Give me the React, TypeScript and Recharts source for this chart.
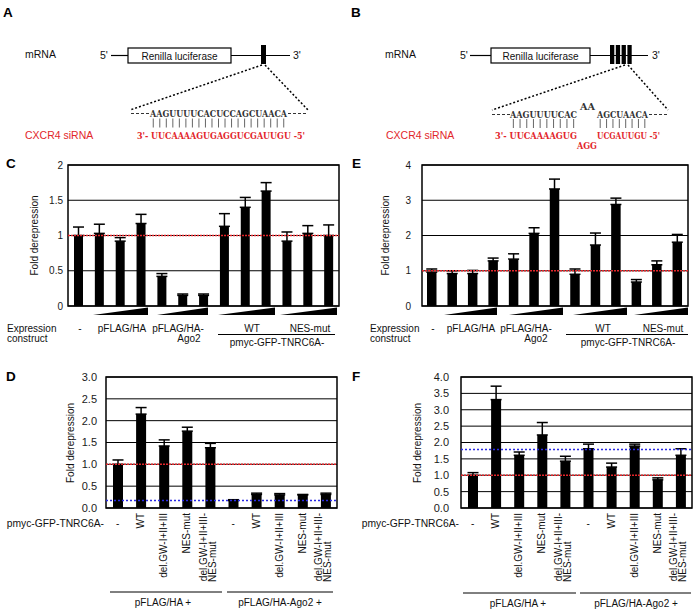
import React from 'react';
import {
  BarChart,
  Bar,
  XAxis,
  YAxis,
  CartesianGrid,
  ReferenceLine,
  ReferenceArea,
  ErrorBar,
} from 'recharts';

const FONT = '"Liberation Sans", Arial, Helvetica, sans-serif';
const SEQ_FONT = '"DejaVu Serif", "Liberation Serif", serif';
const RED = '#e2262b';
const BLUE = '#2a2ae6';

// ---------- Panel C (one site) ----------
const categoriesC = [
  '-', 'HA-1', 'HA-2', 'HA-3', 'Ago2-1', 'Ago2-2', 'Ago2-3',
  'WT-1', 'WT-2', 'WT-3', 'NES-1', 'NES-2', 'NES-3',
];
const valuesC = [1.0, 1.03, 0.92, 1.17, 0.42, 0.15, 0.15, 1.13, 1.4, 1.63, 0.92, 1.03, 1.0];
const errorsC = [0.12, 0.13, 0.05, 0.13, 0.04, 0.02, 0.02, 0.18, 0.14, 0.12, 0.13, 0.11, 0.15];
const ticksC = [0, 0.5, 1, 1.5, 2];

// ---------- Panel E (four bulged sites) ----------
const categoriesE = [
  '-', 'HA-1', 'HA-2', 'HA-3', 'Ago2-1', 'Ago2-2', 'Ago2-3',
  'WT-1', 'WT-2', 'WT-3', 'NES-1', 'NES-2', 'NES-3',
];
const valuesE = [0.96, 0.92, 0.92, 1.28, 1.33, 2.06, 3.32, 0.9, 1.73, 2.88, 0.68, 1.17, 1.81];
const errorsE = [0.09, 0.08, 0.09, 0.08, 0.15, 0.16, 0.28, 0.15, 0.34, 0.18, 0.07, 0.11, 0.22];
const ticksE = [0, 1, 2, 3, 4];

// ---------- Panel D ----------
const categoriesD = [
  'HA:-', 'HA:WT', 'HA:delGW', 'HA:NES', 'HA:delGW-NES',
  'Ago2:-', 'Ago2:WT', 'Ago2:delGW', 'Ago2:NES', 'Ago2:delGW-NES',
];
const tickLabelsD = [
  '-', 'WT', 'del.GW-I+II+III', 'NES-mut', 'del.GW-I+II+III-\nNES-mut',
  '-', 'WT', 'del.GW-I+II+III', 'NES-mut', 'del.GW-I+II+III-\nNES-mut',
];
const valuesD = [1.0, 2.15, 1.42, 1.76, 1.38, 0.17, 0.31, 0.3, 0.3, 0.31];
const errorsD = [0.1, 0.15, 0.14, 0.09, 0.1, 0.02, 0.03, 0.03, 0.01, 0.03];
const ticksD = [0, 0.5, 1, 1.5, 2, 2.5, 3];
const baselineD = 0.17;

// ---------- Panel F ----------
const categoriesF = [
  'HA:-', 'HA:WT', 'HA:delGW', 'HA:NES', 'HA:delGW-NES',
  'Ago2:-', 'Ago2:WT', 'Ago2:delGW', 'Ago2:NES', 'Ago2:delGW-NES',
];
const tickLabelsF = [
  '-', 'WT', 'del.GW-I+II+III', 'NES-mut', 'del.GW-I+II+III-\nNES-mut',
  '-', 'WT', 'del.GW-I+II+III', 'NES-mut', 'del.GW-I+II+III-\nNES-mut',
];
const valuesF = [1.0, 3.31, 1.61, 2.23, 1.43, 1.81, 1.25, 1.89, 0.86, 1.61];
const errorsF = [0.08, 0.41, 0.1, 0.38, 0.15, 0.14, 0.12, 0.06, 0.06, 0.2];
const ticksF = [0, 0.5, 1, 1.5, 2, 2.5, 3, 3.5, 4];
const baselineF = 1.79;

const buildRows = (cats: string[], vals: number[], errs: number[]) =>
  cats.map((name, i) => ({ name, idx: i + 0.5, v: vals[i], e: [0, errs[i]] }));

const fmt1 = (v: number) => v.toFixed(1);

function CatTick(props: any) {
  const { x, y, index, labels } = props;
  const label: string = labels[index] ?? '';
  const common = { fontSize: 10, fontFamily: FONT, fill: '#111' };
  if (label === '-') {
    return (
      <text x={x} y={y + 19} textAnchor="middle" {...common}>
        -
      </text>
    );
  }
  const lines = label.split('\n');
  if (lines.length === 1) {
    return (
      <text transform={`translate(${x},${y + 5}) rotate(-90)`} x={0} y={3.5} textAnchor="end" {...common}>
        {label}
      </text>
    );
  }
  return (
    <g transform={`translate(${x},${y + 5}) rotate(-90)`}>
      <text x={0} y={-3} textAnchor="end" {...common}>
        {lines[0]}
      </text>
      <text x={-69} y={6} textAnchor="start" {...common}>
        {lines[1]}
      </text>
    </g>
  );
}

type PanelProps = {
  left: number;
  top: number;
  width: number;
  height: number;
  rows: any[];
  ticks: number[];
  yWidth: number;
  tickMargin: number;
  tickFont: number;
  barSize: number;
  marginRight: number;
  fmt?: (v: number) => string;
  blue?: number;
  labels?: string[];
  xAxisHeight?: number;
};

function Panel(p: PanelProps) {
  const max = p.ticks[p.ticks.length - 1];
  const n = p.rows.length;
  const boundaries = p.rows.slice(1).map((_, i) => i + 1);
  return (
    <div style={{ position: 'absolute', left: p.left, top: p.top, width: p.width, height: p.height }}>
      <BarChart
        width={p.width}
        height={p.height}
        data={p.rows}
        margin={{ top: 10, right: p.marginRight, bottom: p.labels ? 0 : 9, left: 0 }}
        barCategoryGap={0}
      >
        <CartesianGrid vertical={false} stroke="#000" strokeWidth={1} />
        <XAxis
          xAxisId="sep"
          type="number"
          dataKey="idx"
          domain={[0, n]}
          ticks={boundaries}
          allowDataOverflow
          height={0}
          mirror
          tickSize={4}
          tick={false}
          axisLine={false}
          tickLine={{ stroke: '#000', strokeWidth: 1 }}
        />
        {p.labels ? (
          <XAxis
            dataKey="name"
            height={p.xAxisHeight}
            interval={0}
            axisLine={false}
            tickLine={false}
            tickSize={0}
            tickMargin={0}
            tick={<CatTick labels={p.labels} />}
          />
        ) : (
          <XAxis dataKey="name" hide />
        )}
        <YAxis
          type="number"
          domain={[0, max]}
          ticks={p.ticks}
          interval={0}
          width={p.yWidth}
          axisLine={false}
          tickLine={false}
          tickSize={0}
          tickMargin={p.tickMargin}
          tickFormatter={p.fmt}
          tick={{ fontSize: p.tickFont, fill: '#1a1a1a', fontFamily: FONT }}
        />
        <Bar dataKey="v" fill="#000" barSize={p.barSize} isAnimationActive={false}>
          <ErrorBar dataKey="e" width={5.5} stroke="#000" strokeWidth={1.5} direction="y" isAnimationActive={false} />
        </Bar>
        <ReferenceLine y={1} stroke={RED} strokeWidth={1.5} strokeDasharray="2 1" />
        {p.blue != null && <ReferenceLine y={p.blue} stroke={BLUE} strokeWidth={1.5} strokeDasharray="2 2" />}
        <ReferenceArea y1={0} y2={max} fill="none" fillOpacity={0} stroke="#000" strokeWidth={1.5} />
      </BarChart>
    </div>
  );
}

const T = (props: any) => <text fontFamily={FONT} fontSize={10} fill="#111" {...props} />;
const Seq = (props: any) => (
  <text fontFamily={SEQ_FONT} fontSize={9} fontWeight="bold" lengthAdjust="spacingAndGlyphs" {...props} />
);

function pairLines(x0: number, len: number, n: number, y1: number, y2: number, key: string) {
  const step = len / n;
  return Array.from({ length: n }, (_, i) => (
    <line key={key + i} x1={x0 + step * (i + 0.5)} x2={x0 + step * (i + 0.5)} y1={y1} y2={y2} stroke="#555" strokeWidth={0.9} />
  ));
}

function Wedge({ x1, x2 }: { x1: number; x2: number }) {
  return <polygon points={`${x1},315 ${x2},315 ${x2},307.5`} fill="#000" />;
}

function Overlay() {
  return (
    <svg width={696} height={609} style={{ position: 'absolute', left: 0, top: 0 }}>
      {/* Panel letters */}
      <T x={3} y={17} fontSize={13.5} fontWeight="bold" fill="#000">A</T>
      <T x={351} y={17} fontSize={13.5} fontWeight="bold" fill="#000">B</T>
      <T x={6} y={168} fontSize={13.5} fontWeight="bold" fill="#000">C</T>
      <T x={352} y={168} fontSize={13.5} fontWeight="bold" fill="#000">E</T>
      <T x={6} y={381} fontSize={13.5} fontWeight="bold" fill="#000">D</T>
      <T x={352} y={381} fontSize={13.5} fontWeight="bold" fill="#000">F</T>

      {/* ---- A schematic ---- */}
      <T x={25} y={58} fontSize={10.5}>mRNA</T>
      <T x={100} y={59} fontSize={10.5}>5'</T>
      <line x1={111} x2={128} y1={55.5} y2={55.5} stroke="#000" strokeWidth={1.2} />
      <rect x={128} y={48} width={103} height={15} fill="#fff" stroke="#000" strokeWidth={1.2} />
      <T x={179.5} y={59.5} textAnchor="middle">Renilla luciferase</T>
      <line x1={231} x2={290} y1={55.5} y2={55.5} stroke="#000" strokeWidth={1.2} />
      <rect x={261} y={45} width={5} height={19} fill="#000" />
      <T x={293} y={59} fontSize={10.5}>3'</T>
      <line x1={262} y1={65} x2={130} y2={110} stroke="#000" strokeWidth={1.5} strokeDasharray="2 2" />
      <line x1={265} y1={65} x2={308} y2={110} stroke="#000" strokeWidth={1.5} strokeDasharray="2 2" />
      <line x1={131} x2={150} y1={113.5} y2={113.5} stroke="#333" strokeWidth={1} strokeDasharray="3 2" />
      <line x1={288} x2={307} y1={113.5} y2={113.5} stroke="#333" strokeWidth={1} strokeDasharray="3 2" />
      <Seq x={150} y={117} textLength={137} fill="#333">AAGUUUUCACUCCAGCUAACA</Seq>
      {pairLines(150, 137, 21, 118.5, 127.5, 'pa')}
      <T x={25} y={139} fontSize={10.5} fill={RED}>CXCR4 siRNA</T>
      <Seq x={137} y={139} textLength={168} fill={RED}>3'- UUCAAAAGUGAGGUCGAUUGU -5'</Seq>

      {/* ---- B schematic ---- */}
      <T x={385} y={58} fontSize={10.5}>mRNA</T>
      <T x={460} y={59} fontSize={10.5}>5'</T>
      <line x1={470} x2={491} y1={55.5} y2={55.5} stroke="#000" strokeWidth={1.2} />
      <rect x={491} y={48} width={99} height={15} fill="#fff" stroke="#000" strokeWidth={1.2} />
      <T x={540.5} y={59.5} textAnchor="middle">Renilla luciferase</T>
      <line x1={590} x2={648} y1={55.5} y2={55.5} stroke="#000" strokeWidth={1.2} />
      <rect x={610} y={45} width={4.3} height={19} fill="#000" />
      <rect x={615.8} y={45} width={4.3} height={19} fill="#000" />
      <rect x={621.6} y={45} width={4.3} height={19} fill="#000" />
      <rect x={627.4} y={45} width={4.3} height={19} fill="#000" />
      <T x={652} y={59} fontSize={10.5}>3'</T>
      <line x1={625} y1={65} x2={492} y2={110} stroke="#000" strokeWidth={1.5} strokeDasharray="2 2" />
      <line x1={628} y1={65} x2={668} y2={110} stroke="#000" strokeWidth={1.5} strokeDasharray="2 2" />
      <line x1={492} x2={510} y1={114.5} y2={114.5} stroke="#333" strokeWidth={1} strokeDasharray="3 2" />
      <line x1={649} x2={668} y1={114.5} y2={114.5} stroke="#333" strokeWidth={1} strokeDasharray="3 2" />
      <Seq x={510} y={118} textLength={67} fill="#333">AAGUUUUCAC</Seq>
      <Seq x={580} y={110} textLength={15} fill="#333">AA</Seq>
      <Seq x={597} y={118} textLength={51} fill="#333">AGCUAACA</Seq>
      {pairLines(510, 67, 10, 119, 128, 'pb1')}
      {pairLines(597, 51, 8, 119, 128, 'pb2')}
      <T x={386} y={139} fontSize={10.5} fill={RED}>CXCR4 siRNA</T>
      <Seq x={495} y={139} textLength={82} fill={RED}>3'- UUCAAAAGUG</Seq>
      <Seq x={597} y={139} textLength={63} fill={RED}>UCGAUUGU -5'</Seq>
      <Seq x={577} y={149} textLength={20} fill={RED}>AGG</Seq>

      {/* ---- axis titles ---- */}
      <T transform="translate(34,235.5) rotate(-90)" y={3.5} textAnchor="middle">Fold derepression</T>
      <T transform="translate(385,235.5) rotate(-90)" y={3.5} textAnchor="middle">Fold derepression</T>
      <T transform="translate(70.5,443) rotate(-90)" y={3.5} textAnchor="middle">Fold derepression</T>
      <T transform="translate(417,443) rotate(-90)" y={3.5} textAnchor="middle">Fold derepression</T>

      {/* ---- C construct labels ---- */}
      <Wedge x1={93} x2={148} />
      <Wedge x1={157} x2={208} />
      <Wedge x1={218} x2={275} />
      <Wedge x1={280} x2={337} />
      <T x={7} y={331.5}>Expression</T>
      <T x={7} y={342}>construct</T>
      <T x={80} y={331.5} textAnchor="middle">-</T>
      <T x={122} y={331.5} textAnchor="middle">pFLAG/HA</T>
      <T x={178} y={331.5} textAnchor="middle">pFLAG/HA-</T>
      <T x={189} y={342} textAnchor="middle">Ago2</T>
      <T x={252} y={331.5} textAnchor="middle">WT</T>
      <T x={310} y={331.5} textAnchor="middle">NES-mut</T>
      <line x1={218} x2={335} y1={334.5} y2={334.5} stroke="#000" strokeWidth={1} />
      <T x={277} y={346} textAnchor="middle">pmyc-GFP-TNRC6A-</T>

      {/* ---- E construct labels ---- */}
      <Wedge x1={444} x2={497} />
      <Wedge x1={509} x2={563} />
      <Wedge x1={573} x2={627} />
      <Wedge x1={634} x2={688} />
      <T x={370} y={331.5}>Expression</T>
      <T x={370} y={342}>construct</T>
      <T x={433} y={331.5} textAnchor="middle">-</T>
      <T x={471} y={331.5} textAnchor="middle">pFLAG/HA</T>
      <T x={526} y={331.5} textAnchor="middle">pFLAG/HA-</T>
      <T x={536} y={342} textAnchor="middle">Ago2</T>
      <T x={603} y={331.5} textAnchor="middle">WT</T>
      <T x={663} y={331.5} textAnchor="middle">NES-mut</T>
      <line x1={566} x2={688} y1={334.5} y2={334.5} stroke="#000" strokeWidth={1} />
      <T x={628} y={346} textAnchor="middle">pmyc-GFP-TNRC6A-</T>

      {/* ---- D labels ---- */}
      <T x={104} y={527} textAnchor="end" fontSize={10.3}>pmyc-GFP-TNRC6A-</T>
      <line x1={110} x2={222} y1={592} y2={592} stroke="#000" strokeWidth={1} />
      <line x1={227} x2={333} y1={592} y2={592} stroke="#000" strokeWidth={1} />
      <T x={163} y={606} textAnchor="middle">pFLAG/HA +</T>
      <T x={280} y={606} textAnchor="middle">pFLAG/HA-Ago2 +</T>

      {/* ---- F labels ---- */}
      <T x={459} y={527} textAnchor="end" fontSize={10.3}>pmyc-GFP-TNRC6A-</T>
      <line x1={463} x2={576} y1={593} y2={593} stroke="#000" strokeWidth={1} />
      <line x1={580} x2={691} y1={593} y2={593} stroke="#000" strokeWidth={1} />
      <T x={518} y={607} textAnchor="middle">pFLAG/HA +</T>
      <T x={636} y={607} textAnchor="middle">pFLAG/HA-Ago2 +</T>
    </svg>
  );
}

export default function App() {
  const rowsC = buildRows(categoriesC, valuesC, errorsC);
  const rowsE = buildRows(categoriesE, valuesE, errorsE);
  const rowsD = buildRows(categoriesD, valuesD, errorsD);
  const rowsF = buildRows(categoriesF, valuesF, errorsF);
  return (
    <div style={{ position: 'absolute', left: 0, top: 0, width: 696, height: 609, background: '#fff', fontFamily: FONT }}>
      <Overlay />
      <Panel left={0} top={155} width={345} height={160} rows={rowsC} ticks={ticksC} yWidth={68}
        tickMargin={5} tickFont={10} barSize={9} marginRight={6} />
      <Panel left={348} top={155} width={345} height={160} rows={rowsE} ticks={ticksE} yWidth={74}
        tickMargin={11} tickFont={10} barSize={9.5} marginRight={5} />
      <Panel left={0} top={367} width={340} height={236} rows={rowsD} ticks={ticksD} yWidth={106}
        tickMargin={9} tickFont={11} barSize={10} marginRight={3} fmt={fmt1} blue={baselineD}
        labels={tickLabelsD} xAxisHeight={95} />
      <Panel left={348} top={367} width={348} height={236} rows={rowsF} ticks={ticksF} yWidth={113}
        tickMargin={12} tickFont={11} barSize={10} marginRight={4} fmt={fmt1} blue={baselineF}
        labels={tickLabelsF} xAxisHeight={95} />
    </div>
  );
}
